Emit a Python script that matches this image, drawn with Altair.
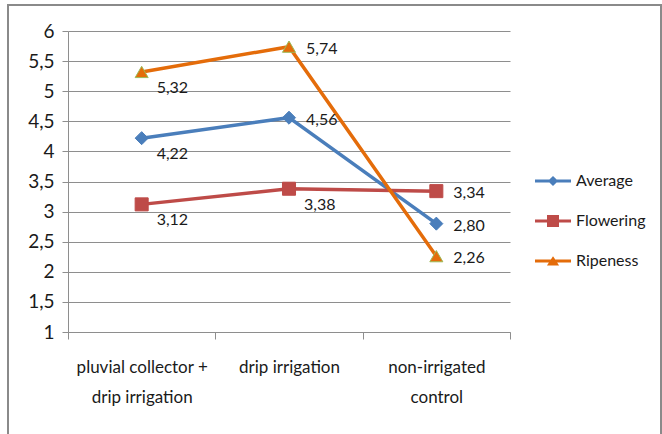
import json

import altair as alt
import pandas as pd

# Treatments on the x axis and how their names wrap onto two lines
categories = [
    "pluvial collector + drip irrigation",
    "drip irrigation",
    "non-irrigated control",
]
category_lines = {
    "pluvial collector + drip irrigation": ["pluvial collector +", "drip irrigation"],
    "drip irrigation": ["drip irrigation"],
    "non-irrigated control": ["non-irrigated", "control"],
}

series_names = ["Average", "Flowering", "Ripeness"]
average = [4.22, 4.56, 2.80]
flowering = [3.12, 3.38, 3.34]
ripeness = [5.32, 5.74, 2.26]

# Which side of its marker each value label is printed on
average_label_side = ["below", "right", "right"]
flowering_label_side = ["below", "below", "right"]
ripeness_label_side = ["below", "right", "right"]

y_ticks = [1, 1.5, 2, 2.5, 3, 3.5, 4, 4.5, 5, 5.5, 6]

line_colors = ["#4A7EBB", "#BE4B48", "#E46C0A"]
marker_outlines = ["#4A7EBB", "#BE4B48", "#9BBB59"]
marker_shapes = ["diamond", "square", "triangle-up"]
# Legend glyphs, stroked only: a short line with the series marker drawn
# as a thick outline plus short strokes that close its centre
legend_glyphs = [
    "M-3,0H3M0,-0.5L0.5,0L0,0.5L-0.5,0Z",
    "M-3,0H3M-0.75,-0.75H0.75V0.75H-0.75ZM-0.75,-0.25H0.75M-0.75,0.25H0.75",
    "M-3,0H3M0,-0.35L0.55,0.5L-0.55,0.5ZM-0.25,0.2H0.25",
]

FONT = "Lato"
TEXT_COLOR = "#1a1a1a"
GRID = "#8e8e8e"

rows = []
for name, values, sides in [
    ("Average", average, average_label_side),
    ("Flowering", flowering, flowering_label_side),
    ("Ripeness", ripeness, ripeness_label_side),
]:
    for cat, v, side in zip(categories, values, sides):
        rows.append(
            {
                "category": cat,
                "series": name,
                "value": v,
                "label": f"{v:.2f}".replace(".", ","),
                "side": side,
            }
        )
df = pd.DataFrame(rows)

label_expr = " : ".join(
    f"datum.label == '{k}' ? {json.dumps(v)}" for k, v in category_lines.items()
) + " : datum.label"

x_enc = alt.X(
    "category:N",
    sort=categories,
    scale=alt.Scale(type="band", paddingInner=0, paddingOuter=0),
    axis=alt.Axis(
        title=None,
        labelAngle=0,
        tickBand="extent",
        tickSize=7,
        labelPadding=20,
        labelExpr=label_expr,
        labelLineHeight=30,
        labelFontSize=17,
        labelFont=FONT,
        labelColor=TEXT_COLOR,
        domainColor=GRID,
        tickColor=GRID,
        grid=False,
    ),
)
y_enc = alt.Y(
    "value:Q",
    scale=alt.Scale(domain=[1, 6], nice=False, zero=False),
    axis=alt.Axis(
        title=None,
        values=y_ticks,
        labelExpr="replace(toString(datum.value), '.', ',')",
        tickSize=6,
        labelPadding=8,
        labelFontSize=19,
        labelFont=FONT,
        labelColor=TEXT_COLOR,
        domainColor=GRID,
        tickColor=GRID,
        grid=True,
        gridColor=GRID,
        gridWidth=1,
    ),
)

color_scale = alt.Scale(domain=series_names, range=line_colors)

base = alt.Chart(df)

frame = (
    alt.Chart(pd.DataFrame({"k": [0]}))
    .mark_rect(fill=None, stroke="#8a8a8a", strokeWidth=2)
    .encode(x=alt.value(-60), x2=alt.value(593), y=alt.value(-26), y2=alt.value(420))
)

lines = base.mark_line(strokeWidth=3.5).encode(
    x=x_enc,
    y=y_enc,
    color=alt.Color("series:N", scale=color_scale, legend=None),
    detail="series:N",
)

points = base.mark_point(filled=True, size=170, strokeWidth=1, opacity=1).encode(
    x=x_enc,
    y=y_enc,
    color=alt.Color("series:N", scale=color_scale, legend=None),
    stroke=alt.Stroke(
        "series:N", scale=alt.Scale(domain=series_names, range=marker_outlines), legend=None
    ),
    shape=alt.Shape(
        "series:N", scale=alt.Scale(domain=series_names, range=marker_shapes), legend=None
    ),
)

labels_below = (
    base.transform_filter(alt.datum.side == "below")
    .mark_text(align="left", baseline="middle", dx=15, dy=16, fontSize=16, font=FONT, color=TEXT_COLOR)
    .encode(x=x_enc, y=y_enc, text="label:N")
)
labels_right = (
    base.transform_filter(alt.datum.side == "right")
    .mark_text(align="left", baseline="middle", dx=17, dy=2, fontSize=16, font=FONT, color=TEXT_COLOR)
    .encode(x=x_enc, y=y_enc, text="label:N")
)

# Invisible layer whose only job is to carry the legend
legend_layer = base.mark_point(filled=False, opacity=0).encode(
    x=x_enc,
    y=y_enc,
    color=alt.Color(
        "series:N",
        scale=color_scale,
        legend=alt.Legend(
            title=None,
            orient="none",
            legendX=477,
            legendY=142,
            symbolSize=144,
            symbolStrokeWidth=3,
            symbolOpacity=1,
            labelOffset=15,
            labelFontSize=16,
            labelFont=FONT,
            labelColor=TEXT_COLOR,
            rowPadding=20,
        ),
    ),
    shape=alt.Shape("series:N", scale=alt.Scale(domain=series_names, range=legend_glyphs)),
)

chart = (
    alt.layer(frame, lines, points, labels_below, labels_right, legend_layer)
    .resolve_scale(color="independent", stroke="independent", shape="independent")
    .resolve_legend(color="independent", stroke="independent", shape="independent")
    .properties(
        width=442,
        height=301,
        autosize=alt.AutoSizeParams(type="none"),
        padding={"left": 68, "top": 31, "right": 152, "bottom": 102},
        background="white",
    )
    .configure_view(stroke=None)
)

chart.save("out.html", embed_options={"renderer": "svg", "actions": False})
